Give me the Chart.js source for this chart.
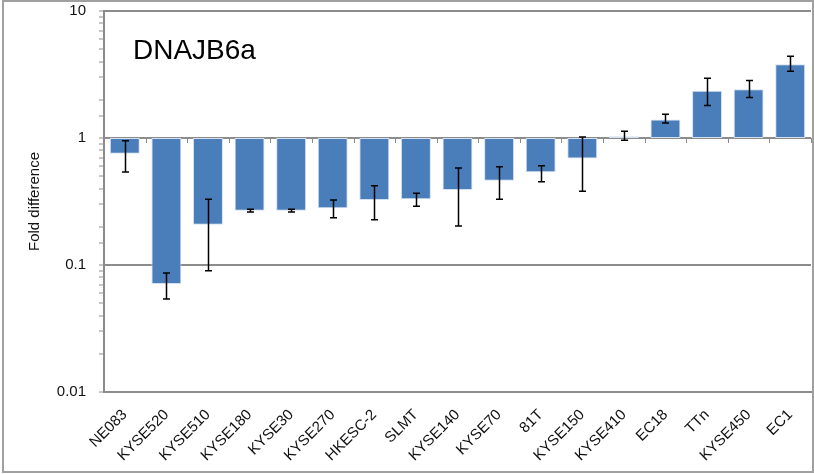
<!DOCTYPE html>
<html lang="en">
<head>
  <meta charset="UTF-8" />
  <title>DNAJB6a Fold difference</title>
  <script src="https://cdn.jsdelivr.net/npm/chart.js"></script>
  <style>
    body { margin: 0; background: #ffffff; }
    #frame {
      position: absolute; left: 2px; top: 0px; width: 808px; height: 469px;
      border: 2px solid #a0a0a0;
    }
    #wrap { position: absolute; left: 0; top: 0; width: 814px; height: 474px; }
  </style>
</head>
<body>
  <div id="frame"></div>
  <div id="wrap"><canvas id="chart" width="814" height="474"></canvas></div>

  <script>
    const cellLines = ['NE083', 'KYSE520', 'KYSE510', 'KYSE180', 'KYSE30', 'KYSE270', 'HKESC-2', 'SLMT',
      'KYSE140', 'KYSE70', '81T', 'KYSE150', 'KYSE410', 'EC18', 'TTn', 'KYSE450', 'EC1'];
    const foldDiff = [0.75, 0.071, 0.207, 0.268, 0.268, 0.28, 0.325, 0.329,
      0.39, 0.46, 0.537, 0.69, 1.03, 1.40, 2.36, 2.42, 3.8];
    const errHigh = [0.95, 0.0865, 0.33, 0.275, 0.275, 0.325, 0.42, 0.367,
      0.58, 0.594, 0.605, 1.02, 1.13, 1.54, 2.95, 2.83, 4.4];
    const errLow = [0.54, 0.054, 0.09, 0.262, 0.262, 0.235, 0.227, 0.29,
      0.203, 0.33, 0.453, 0.38, 0.96, 1.31, 1.80, 2.08, 3.35];
    const majorTicks = [10, 1, 0.1, 0.01];

    const FONT = '"Liberation Sans", Arial, sans-serif';
    const isMajor = v => Math.abs(Math.log10(v) - Math.round(Math.log10(v))) < 1e-6;

    // error bars, category ticks on the y=1 line, and the inset title
    const extras = {
      id: 'extras',
      afterDatasetsDraw(chart) {
        const ctx = chart.ctx;
        const y = chart.scales.y;
        const x = chart.scales.x;
        const area = chart.chartArea;
        ctx.save();

        // category boundary ticks along the baseline at 1
        const y1 = y.getPixelForValue(1);
        const step = (area.right - area.left) / cellLines.length;
        ctx.strokeStyle = '#8c8c8c';
        ctx.lineWidth = 1;
        for (let i = 0; i <= cellLines.length; i++) {
          const px = Math.round(area.left + i * step) + 0.5;
          ctx.beginPath();
          ctx.moveTo(px, y1);
          ctx.lineTo(px, y1 + 5);
          ctx.stroke();
        }

        // error bars
        ctx.strokeStyle = '#000000';
        ctx.lineWidth = 1.5;
        foldDiff.forEach((v, i) => {
          const cx = Math.round(x.getPixelForValue(i)) + 0.5;
          const yt = y.getPixelForValue(errHigh[i]);
          const yb = y.getPixelForValue(errLow[i]);
          ctx.beginPath();
          ctx.moveTo(cx, yt); ctx.lineTo(cx, yb);
          ctx.moveTo(cx - 3.5, yt); ctx.lineTo(cx + 3.5, yt);
          ctx.moveTo(cx - 3.5, yb); ctx.lineTo(cx + 3.5, yb);
          ctx.stroke();
        });

        // title inside the plot
        ctx.fillStyle = '#000000';
        ctx.font = '28px ' + FONT;
        ctx.textBaseline = 'alphabetic';
        ctx.fillText('DNAJB6a', 133, 59);
        ctx.restore();
      }
    };

    new Chart(document.getElementById('chart').getContext('2d'), {
      type: 'bar',
      data: {
        labels: cellLines,
        datasets: [{
          label: 'Fold difference',
          data: foldDiff.map(v => [1, v]),
          backgroundColor: '#4a7ebb',
          borderColor: '#d3e0f0',
          borderWidth: 1,
          borderSkipped: false,
          barPercentage: 0.72,
          categoryPercentage: 1.0
        }]
      },
      options: {
        responsive: false,
        animation: false,
        layout: { padding: { top: 11, right: 3, left: 0, bottom: 0 } },
        plugins: {
          legend: { display: false },
          tooltip: { enabled: false }
        },
        scales: {
          x: {
            grid: { display: false },
            border: { display: true, color: '#8c8c8c', width: 2 },
            ticks: {
              autoSkip: false,
              maxRotation: 45,
              minRotation: 45,
              color: '#111111',
              padding: 6,
              font: { family: FONT, size: 15 }
            },
            afterFit(scale) {
              scale.height = 82;
              scale.paddingLeft = 0;
              scale.paddingRight = 0;
            }
          },
          y: {
            type: 'logarithmic',
            min: 0.01,
            max: 10,
            border: { display: true, color: '#8c8c8c', width: 2 },
            grid: {
              color: c => (c.tick && isMajor(c.tick.value)) ? '#8c8c8c' : 'rgba(0,0,0,0)',
              lineWidth: c => (c.tick && isMajor(c.tick.value)) ? 2 : 0,
              tickColor: '#8c8c8c',
              tickLength: 5,
              tickWidth: 1
            },
            ticks: {
              autoSkip: false,
              color: '#111111',
              padding: 13,
              font: { family: FONT, size: 15 },
              callback: v => majorTicks.includes(Number(v)) ? String(Number(v)) : ''
            },
            title: {
              display: true,
              text: 'Fold difference',
              color: '#111111',
              padding: { top: 26, bottom: 0 },
              font: { family: FONT, size: 15 }
            },
            afterFit(scale) {
              scale.width = 104;
              scale.paddingTop = 0;
              scale.paddingBottom = 0;
            }
          }
        }
      },
      plugins: [extras]
    });
  </script>
</body>
</html>
